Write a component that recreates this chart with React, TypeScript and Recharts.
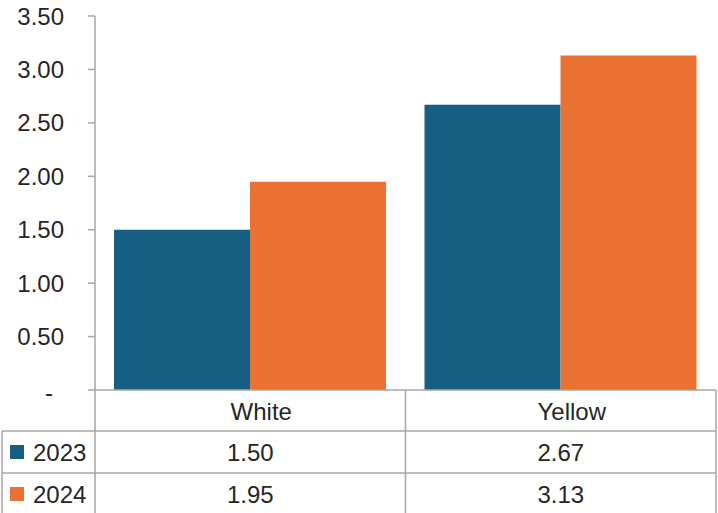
import { Bar, BarChart, XAxis, YAxis } from "recharts";

const CATEGORIES = ["White", "Yellow"];
const SERIES_NAMES = ["2023", "2024"];
const VALUES_2023 = [1.5, 2.67];
const VALUES_2024 = [1.95, 3.13];
const Y_TICKS = [0, 0.5, 1, 1.5, 2, 2.5, 3, 3.5];

const COLORS = ["#156082", "#E97132"];
const LINE = "#A6A6A6";
const TEXT = "#262626";
const FONT = "'Liberation Sans', Arial, sans-serif";

const W = 718;
const H = 513;
const PLOT_LEFT = 95;
const PLOT_RIGHT = 716;
const AXIS_Y = 390;
const ROWS = [390, 431, 473, 515];

const data = CATEGORIES.map((name, i) => ({
  name,
  y2023: VALUES_2023[i],
  y2024: VALUES_2024[i],
}));
const seriesValues = [VALUES_2023, VALUES_2024];

function YTick({ x, y, payload }: any) {
  if (payload.value === 0) {
    return (
      <text x={49} y={y + 2} textAnchor="middle" dominantBaseline="central" fill={TEXT} fontSize={24} fontFamily={FONT}>
        -
      </text>
    );
  }
  return (
    <text x={x} y={y} textAnchor="end" dominantBaseline="central" fill={TEXT} fontSize={24} fontFamily={FONT}>
      {payload.value.toFixed(2)}
    </text>
  );
}

function TableTick({ x, payload, index }: any) {
  const band = (PLOT_RIGHT - PLOT_LEFT) / CATEGORIES.length;
  const left = x - band / 2;
  const right = x + band / 2;
  return (
    <g>
      {index === 0 && (
        <g>
          <line x1={left} y1={AXIS_Y} x2={left} y2={ROWS[3]} stroke={LINE} strokeWidth={1.5} />
          <line x1={2} y1={ROWS[1]} x2={2} y2={ROWS[3]} stroke={LINE} strokeWidth={1.5} />
          {[ROWS[1], ROWS[2]].map((ry) => (
            <line key={ry} x1={2} y1={ry} x2={left} y2={ry} stroke={LINE} strokeWidth={1.5} />
          ))}
          {SERIES_NAMES.map((s, si) => {
            const cy = (ROWS[si + 1] + ROWS[si + 2]) / 2;
            return (
              <g key={s}>
                <rect x={10} y={cy - 7} width={14} height={14} fill={COLORS[si]} />
                <text x={33} y={cy} dominantBaseline="central" fill={TEXT} fontSize={24} fontFamily={FONT}>
                  {s}
                </text>
              </g>
            );
          })}
        </g>
      )}
      <line x1={right} y1={AXIS_Y} x2={right} y2={ROWS[3]} stroke={LINE} strokeWidth={1.5} />
      {[ROWS[1], ROWS[2]].map((ry) => (
        <line key={ry} x1={left} y1={ry} x2={right} y2={ry} stroke={LINE} strokeWidth={1.5} />
      ))}
      <text x={x + 11} y={(ROWS[0] + ROWS[1]) / 2 + 1} textAnchor="middle" dominantBaseline="central" fill={TEXT} fontSize={24} fontFamily={FONT}>
        {payload.value}
      </text>
      {seriesValues.map((vals, si) => (
        <text
          key={si}
          x={x}
          y={(ROWS[si + 1] + ROWS[si + 2]) / 2}
          textAnchor="middle"
          dominantBaseline="central"
          fill={TEXT}
          fontSize={24}
          fontFamily={FONT}
        >
          {vals[index].toFixed(2)}
        </text>
      ))}
    </g>
  );
}

export default function App() {
  return (
    <div style={{ position: "absolute", left: 0, top: 0, width: W, height: H, background: "#fff" }}>
      <BarChart
        width={W}
        height={H}
        data={data}
        margin={{ top: 16, right: W - PLOT_RIGHT, bottom: 0, left: 0 }}
        barCategoryGap={19}
        barGap={0}
      >
        <YAxis
          width={PLOT_LEFT}
          domain={[0, 3.5]}
          ticks={Y_TICKS}
          interval={0}
          tickSize={7}
          tickMargin={24}
          tickLine={{ stroke: LINE, strokeWidth: 1.5 }}
          axisLine={{ stroke: LINE, strokeWidth: 1.5 }}
          tick={<YTick />}
        />
        <XAxis
          dataKey="name"
          height={H - AXIS_Y}
          tickLine={false}
          axisLine={{ stroke: LINE, strokeWidth: 1.5 }}
          interval={0}
          tick={<TableTick />}
        />
        <Bar dataKey="y2023" name="2023" fill={COLORS[0]} isAnimationActive={false} />
        <Bar dataKey="y2024" name="2024" fill={COLORS[1]} isAnimationActive={false} />
      </BarChart>
    </div>
  );
}
